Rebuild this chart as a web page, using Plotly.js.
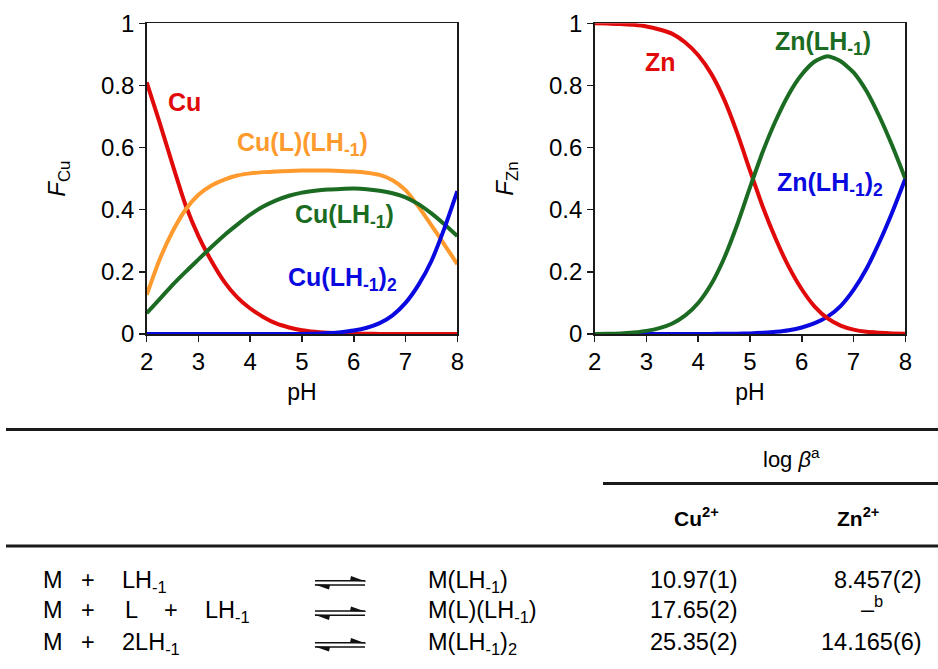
<!DOCTYPE html>
<html><head><meta charset="utf-8">
<script src="https://cdn.plot.ly/plotly-3.0.1.min.js"></script>
<style>html,body{margin:0;padding:0;background:#fff}</style>
</head><body><div id="chart" style="width:938px;height:669px"></div>
<script>
// ---------------- data ----------------
const pH = [2, 2.25, 2.5, 2.75, 3, 3.25, 3.5, 3.75, 4, 4.25, 4.5, 4.75, 5, 5.25, 5.5, 5.75, 6, 6.25, 6.5, 6.75, 7, 7.25, 7.5, 7.75, 8];
// Cu2+ system
const fracCu     = [0.81, 0.68, 0.545, 0.415, 0.315, 0.235, 0.168, 0.118, 0.082, 0.055, 0.034, 0.021, 0.012, 0.007, 0.004, 0.002, 0.001, 0.001, 0, 0, 0, 0, 0, 0, 0];
const fracCuLLH  = [0.126, 0.24, 0.33, 0.40, 0.448, 0.478, 0.497, 0.51, 0.517, 0.521, 0.523, 0.525, 0.526, 0.526, 0.526, 0.525, 0.523, 0.519, 0.512, 0.495, 0.463, 0.41, 0.35, 0.288, 0.225];
const fracCuLH   = [0.067, 0.112, 0.158, 0.2, 0.24, 0.28, 0.318, 0.352, 0.384, 0.41, 0.43, 0.445, 0.455, 0.461, 0.465, 0.467, 0.468, 0.466, 0.461, 0.453, 0.44, 0.418, 0.388, 0.353, 0.315];
const fracCuLH2  = [0, 0, 0, 0, 0, 0, 0, 0, 0, 0, 0, 0, 0, 0.001, 0.003, 0.006, 0.011, 0.02, 0.035, 0.06, 0.1, 0.158, 0.235, 0.34, 0.46];
// Zn2+ system
const fracZn     = [1.0, 0.999, 0.998, 0.995, 0.99, 0.98, 0.966, 0.938, 0.897, 0.838, 0.755, 0.648, 0.526, 0.408, 0.305, 0.216, 0.144, 0.088, 0.05, 0.027, 0.014, 0.007, 0.004, 0.002, 0.001];
const fracZnLH   = [0, 0.001, 0.002, 0.005, 0.01, 0.019, 0.034, 0.06, 0.1, 0.16, 0.244, 0.351, 0.472, 0.588, 0.688, 0.772, 0.835, 0.877, 0.894, 0.878, 0.842, 0.782, 0.7, 0.605, 0.5];
const fracZnLH2  = [0, 0, 0, 0, 0, 0, 0, 0, 0, 0, 0.001, 0.001, 0.002, 0.004, 0.007, 0.012, 0.021, 0.035, 0.056, 0.09, 0.142, 0.21, 0.296, 0.393, 0.5];

const xTicks = [2, 3, 4, 5, 6, 7, 8];
const yTicks = [0, 0.2, 0.4, 0.6, 0.8, 1];
const xTitle = "pH";
const yTitleCu = "<i>F</i><sub>Cu</sub>";
const yTitleZn = "<i>F</i><sub>Zn</sub>";
const labelsCu = ["Cu", "Cu(L)(LH<sub>-1</sub>)", "Cu(LH<sub>-1</sub>)", "Cu(LH<sub>-1</sub>)<sub>2</sub>"];
const labelsZn = ["Zn", "Zn(LH<sub>-1</sub>)", "Zn(LH<sub>-1</sub>)<sub>2</sub>"];

// table
const reactants = [["M", "+", "LH<sub>-1</sub>"], ["M", "+", "L", "+", "LH<sub>-1</sub>"], ["M", "+", "2LH<sub>-1</sub>"]];
const products = ["M(LH<sub>-1</sub>)", "M(L)(LH<sub>-1</sub>)", "M(LH<sub>-1</sub>)<sub>2</sub>"];
const logBetaCu = ["10.97(1)", "17.65(2)", "25.35(2)"];
const logBetaZn = ["8.457(2)", null, "14.165(6)"];
const missingMark = "–<sup>b</sup>";
const headerLabel = "log <i>β</i><sup>a</sup>";
const metalHeaders = ["Cu<sup>2+</sup>", "Zn<sup>2+</sup>"];

// ---------------- layout helpers ----------------
const W = 938, H = 669;
const px = v => v / W;
const py = v => 1 - v / H;
const FONT = "Liberation Sans, Arial, Helvetica, sans-serif";
const AX = '#1a1a1a';

const colors = {red: '#e10a0a', orange: '#ff9a2e', green: '#1b6b22', blue: '#0a0ae0'};

function tr(x, y, color, xa, ya) {
  return {x: x, y: y, type: 'scatter', mode: 'lines', xaxis: xa, yaxis: ya,
          line: {color: color, width: 4, shape: 'spline', smoothing: 0.6},
          hoverinfo: 'skip', showlegend: false};
}
const traces = [
  tr(pH, fracCu, colors.red, 'x', 'y'),
  tr(pH, fracCuLLH, colors.orange, 'x', 'y'),
  tr(pH, fracCuLH, colors.green, 'x', 'y'),
  tr(pH, fracCuLH2, colors.blue, 'x', 'y'),
  tr(pH, fracZnLH2, colors.blue, 'x2', 'y2'),
  tr(pH, fracZn, colors.red, 'x2', 'y2'),
  tr(pH, fracZnLH, colors.green, 'x2', 'y2')
];

function xaxis(dom, anchor) {
  return {domain: dom, anchor: anchor, range: [2, 8], tickvals: xTicks,
    showline: true, linecolor: AX, linewidth: 1.5, mirror: true,
    ticks: 'outside', ticklen: 6, tickwidth: 1.5, tickcolor: AX,
    showgrid: false, zeroline: false,
    tickfont: {family: FONT, size: 24, color: '#000'},
    title: {text: xTitle, font: {family: FONT, size: 23, color: '#000'}, standoff: 9}};
}
function yaxis(anchor, title) {
  return {domain: [py(334), py(23.3)], anchor: anchor, range: [0, 1], tickvals: yTicks,
    showline: true, linecolor: AX, linewidth: 1.5, mirror: true,
    ticks: 'outside', ticklen: 6, tickwidth: 1.5, tickcolor: AX,
    showgrid: false, zeroline: false,
    tickfont: {family: FONT, size: 24, color: '#000'},
    title: {text: title, font: {family: FONT, size: 24, color: '#000'}, standoff: 28}};
}

const ann = [];
function A(text, x, y, xanchor, yanchor, size, color) {
  ann.push({text: text, x: px(x), y: py(y), xref: 'paper', yref: 'paper',
    xanchor: xanchor, yanchor: yanchor, showarrow: false,
    font: {family: FONT, size: size, color: color}});
}
// series labels (bold); positions = [left edge, cap top]
const LS = 25;
const cuPos = [[168, 93], [237, 133], [295, 205], [288, 268]];
const cuCol = [colors.red, colors.orange, colors.green, colors.blue];
labelsCu.forEach((t, i) => A('<b>' + t + '</b>', cuPos[i][0] - 2, cuPos[i][1] - 7.3, 'left', 'top', LS, cuCol[i]));
const znPos = [[645, 53], [775, 32], [777, 173]];
const znCol = [colors.red, colors.green, colors.blue];
labelsZn.forEach((t, i) => A('<b>' + t + '</b>', znPos[i][0] - 2, znPos[i][1] - 7.3, 'left', 'top', LS, znCol[i]));

// table text
const TS = 23.5;
const capMid = [579.7, 610, 641.7];
const topOff = (0.358 + 0.189) * TS + 2;
const tokenX = [[[43, 'left'], [88, 'center'], [122, 'left']],
                [[43, 'left'], [88, 'center'], [125, 'left'], [171, 'center'], [205, 'left']],
                [[43, 'left'], [88, 'center'], [122, 'left']]];
reactants.forEach((row, r) => {
  const yt = capMid[r] - topOff;
  row.forEach((t, k) => {
    const [x, xa] = tokenX[r][k];
    A(t, xa === 'left' ? x - 2 : x, yt, xa, 'top', TS, '#000');
  });
  A(products[r], 428 - 2, yt, 'left', 'top', TS, '#000');
  A(logBetaCu[r], 738 + 2, yt, 'right', 'top', TS, '#000');
  if (logBetaZn[r] !== null) A(logBetaZn[r], 922 + 2, yt, 'right', 'top', TS, '#000');
  else A(missingMark, 872, capMid[r] + 0.358 * TS + 0.212 * TS + 1, 'center', 'bottom', TS, '#000');
});
A(headerLabel, 763 - 2, 467 + 6.7, 'left', 'bottom', 22, '#000');
A('<b>' + metalHeaders[0] + '</b>', 696, 525 + 6.5, 'center', 'bottom', 21, '#000');
A('<b>' + metalHeaders[1] + '</b>', 857.5, 525 + 6.5, 'center', 'bottom', 21, '#000');

// shapes: table rules and equilibrium arrows
const shapes = [];
function hline(x0, x1, y, w) {
  shapes.push({type: 'line', xref: 'paper', yref: 'paper', x0: px(x0), x1: px(x1), y0: py(y), y1: py(y),
    line: {color: '#1a1a1a', width: w}});
}
hline(6, 938, 429.5, 3);
hline(603, 938, 483.5, 3);
hline(6, 938, 546, 3);
function P(pts) { return pts.map((p, i) => (i ? 'L' : 'M') + px(p[0]) + ',' + py(p[1])).join(' ') + ' Z'; }
capMid.forEach(yc => {
  const y1 = yc + 1, y2 = yc + 5.3;
  shapes.push({type: 'path', xref: 'paper', yref: 'paper',
    path: P([[315, y1 - 0.8], [365, y1 - 0.8], [366, y1 + 0.8], [315, y1 + 0.8]]), fillcolor: '#111', line: {width: 0}});
  shapes.push({type: 'path', xref: 'paper', yref: 'paper',
    path: P([[351, y1 - 4.6], [366, y1 + 0.8], [350, y1]]), fillcolor: '#111', line: {width: 0}});
  shapes.push({type: 'path', xref: 'paper', yref: 'paper',
    path: P([[315, y2 - 0.8], [365, y2 - 0.8], [365, y2 + 0.8], [315, y2 + 0.8]]), fillcolor: '#111', line: {width: 0}});
  shapes.push({type: 'path', xref: 'paper', yref: 'paper',
    path: P([[329, y2 + 4.6], [314, y2 - 0.8], [330, y2]]), fillcolor: '#111', line: {width: 0}});
});

const layout = {
  width: W, height: H, margin: {l: 0, r: 0, t: 0, b: 0},
  paper_bgcolor: '#fff', plot_bgcolor: '#fff',
  font: {family: FONT, color: '#000'},
  xaxis: xaxis([px(146.7), px(457.3)], 'y'),
  yaxis: yaxis('x', yTitleCu),
  xaxis2: xaxis([px(594.7), px(905.3)], 'y2'),
  yaxis2: yaxis('x2', yTitleZn),
  annotations: ann, shapes: shapes, showlegend: false
};
Plotly.newPlot('chart', traces, layout, {displayModeBar: false, staticPlot: true});
</script></body></html>
